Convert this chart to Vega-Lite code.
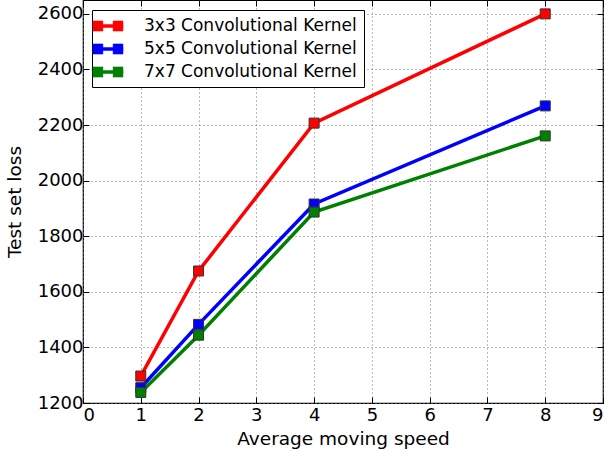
{
  "$schema": "https://vega.github.io/schema/vega-lite/v6.json",
  "width": 520,
  "height": 403,
  "autosize": "none",
  "padding": {"left": 83, "top": 0, "right": 4, "bottom": 48},
  "config": {
    "font": "DejaVu Sans",
    "view": {"stroke": "#000000", "strokeWidth": 1.2},
    "axis": {
      "labelFont": "DejaVu Sans",
      "titleFont": "DejaVu Sans",
      "labelFontSize": 18,
      "titleFontSize": 18.5,
      "titleFontWeight": "normal",
      "labelColor": "#000000",
      "titleColor": "#000000",
      "domain": false,
      "grid": true,
      "gridColor": "#777777",
      "gridDash": [1, 3],
      "gridWidth": 1,
      "tickColor": "#000000",
      "tickSize": -6,
      "labelPadding": 6,
      "format": "d"
    }
  },
  "data": {
    "values": [
      {"speed": 1, "loss": 1297, "kernel": "3x3 Convolutional Kernel"},
      {"speed": 2, "loss": 1675, "kernel": "3x3 Convolutional Kernel"},
      {"speed": 4, "loss": 2207, "kernel": "3x3 Convolutional Kernel"},
      {"speed": 8, "loss": 2600, "kernel": "3x3 Convolutional Kernel"},
      {"speed": 1, "loss": 1255, "kernel": "5x5 Convolutional Kernel"},
      {"speed": 2, "loss": 1483, "kernel": "5x5 Convolutional Kernel"},
      {"speed": 4, "loss": 1916, "kernel": "5x5 Convolutional Kernel"},
      {"speed": 8, "loss": 2269, "kernel": "5x5 Convolutional Kernel"},
      {"speed": 1, "loss": 1238, "kernel": "7x7 Convolutional Kernel"},
      {"speed": 2, "loss": 1444, "kernel": "7x7 Convolutional Kernel"},
      {"speed": 4, "loss": 1887, "kernel": "7x7 Convolutional Kernel"},
      {"speed": 8, "loss": 2161, "kernel": "7x7 Convolutional Kernel"}
    ]
  },
  "resolve": {"axis": {"x": "independent", "y": "independent"}},
  "layer": [
    {
      "mark": {"type": "line", "strokeWidth": 3.5},
      "encoding": {
        "x": {
          "field": "speed",
          "type": "quantitative",
          "title": "Average moving speed",
          "scale": {"domain": [0, 9], "nice": false, "zero": false},
          "axis": {"values": [0,1,2,3,4,5,6,7,8,9], "titlePadding": 5, "labelPadding": 9, "orient": "bottom"}
        },
        "y": {
          "field": "loss",
          "type": "quantitative",
          "title": "Test set loss",
          "scale": {"domain": [1200, 2650], "nice": false, "zero": false},
          "axis": {"values": [1200,1400,1600,1800,2000,2200,2400,2600], "titlePadding": 13, "orient": "left"}
        },
        "color": {
          "field": "kernel",
          "type": "nominal",
          "scale": {
            "domain": ["3x3 Convolutional Kernel", "5x5 Convolutional Kernel", "7x7 Convolutional Kernel"],
            "range": ["#ff0000", "#0000ff", "#008000"]
          },
          "legend": {
            "title": null,
            "orient": "none",
            "legendX": 9,
            "legendY": 10,
            "direction": "vertical",
            "strokeColor": "#000000",
            "fillColor": "#ffffff",
            "padding": 7,
            "labelFont": "DejaVu Sans",
            "labelFontSize": 17,
            "labelColor": "#000000",
            "labelOffset": 27,
            "labelLimit": 0,
            "rowPadding": 6,
            "symbolType": "M-1.76,-0.18H1.76V0.18H-1.76Z M-1.76,-0.6H-0.6V0.6H-1.76Z M0.6,-0.6H1.76V0.6H0.6Z",
            "symbolSize": 289,
            "symbolStrokeWidth": 0.5,
            "symbolStrokeColor": "#333333",
            "symbolOpacity": 1
          }
        }
      }
    },
    {
      "mark": {"type": "square", "size": 100, "filled": true, "opacity": 1, "stroke": "#333333", "strokeWidth": 1},
      "encoding": {
        "x": {
          "field": "speed",
          "type": "quantitative",
          "axis": {"values": [0,1,2,3,4,5,6,7,8,9], "orient": "top", "labels": false, "grid": false, "title": null}
        },
        "y": {
          "field": "loss",
          "type": "quantitative",
          "axis": {"values": [1200,1400,1600,1800,2000,2200,2400,2600], "orient": "right", "labels": false, "grid": false, "title": null}
        },
        "color": {"field": "kernel", "type": "nominal"}
      }
    }
  ]
}
